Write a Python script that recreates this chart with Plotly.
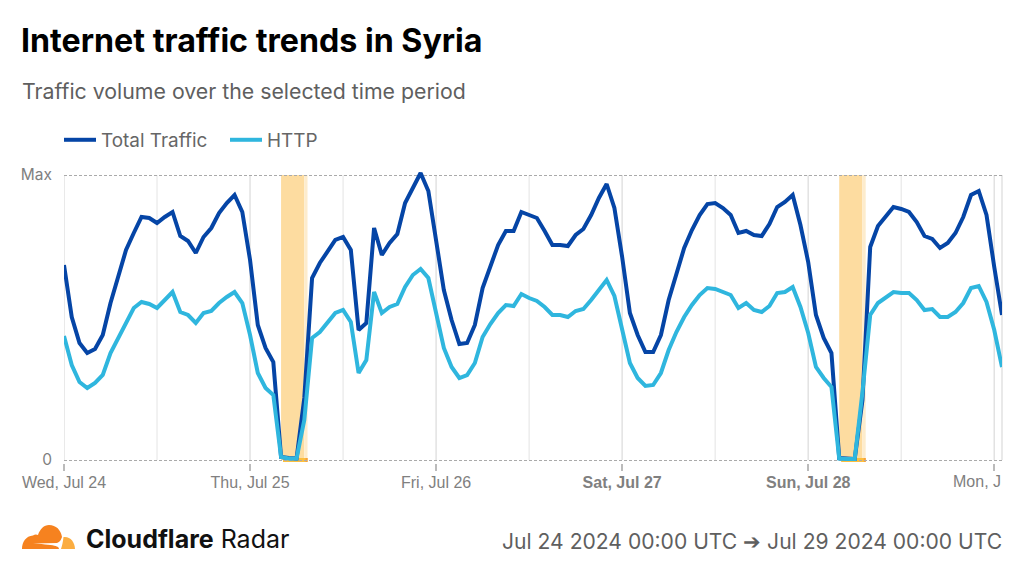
import pandas as pd
import plotly.graph_objects as go

# hourly traffic (0 to 285 = "Max")
total_traffic = [195,143,117,107,111,125,157,184,210,227,243,242,237,243,248,224,219,207,223,232,247,257,265,248,
                 200,135,112,98,3,2,1.5,62,182,197,208,220,223,210,130,137,232,205,217,226,257,273,287,269,
                 220,170,140,116,117,135,172,195,215,229,229,248,245,242,229,215,215,214,225,231,245,262,276,252,
                 203,147,125,108,108,125,160,187,212,230,245,256,257,252,245,227,229,225,224,236,253,258,265,235,
                 198,145,122,107,2,1.5,1,60,213,234,243,253,251,248,238,224,221,212,217,227,243,265,269,245,
                 193,145]
http_traffic = [124,95,78,72,77,85,107,122,138,152,158,156,152,160,168,148,145,137,147,149,157,163,168,157,
                125,87,72,65,3,1.5,1.5,40,122,128,137,147,150,138,87,100,168,147,153,156,173,185,191,182,
                147,112,93,82,85,97,123,136,147,155,154,166,162,159,153,145,145,143,149,151,160,170,180,164,
                132,97,82,74,75,87,110,128,143,155,165,172,171,168,165,152,157,150,148,154,167,168,173,153,
                127,93,82,73,1.5,1,1,68,145,157,163,168,167,167,160,150,151,143,143,148,157,172,174,158,
                130,93]
hours = pd.date_range("2024-07-24", periods=len(total_traffic), freq="h")

day_ticks = ["2024-07-24", "2024-07-25", "2024-07-26", "2024-07-27", "2024-07-28", "2024-07-29"]
day_labels = ["Wed, Jul 24", "Thu, Jul 25", "Fri, Jul 26", "<b>Sat, Jul 27</b>", "<b>Sun, Jul 28</b>", ""]
noon_ticks = ["2024-07-24 12:00", "2024-07-25 12:00", "2024-07-26 12:00", "2024-07-27 12:00", "2024-07-28 12:00"]
y_max = 285

# outages: start, end of solid band, end of pale edge
outages = [("2024-07-25 04:00", "2024-07-25 07:00", "2024-07-25 07:25"),
           ("2024-07-28 04:00", "2024-07-28 07:00", "2024-07-28 07:25")]
outage_bars = [("2024-07-25 04:15", "2024-07-25 07:10"), ("2024-07-28 04:15", "2024-07-28 07:10")]

W, H = 1024, 576
L, R, T, B = 64, 1002, 172, 463


def px(x):
    return (x - L) / (R - L)


def py(y):
    return (B - y) / (B - T)


def cloud_path(points):
    # points are page pixels
    out = ""
    for cmd, coords in points:
        out += cmd + " ".join(f"{px(c[0]):.5f},{py(c[1]):.5f}" for c in coords) + " "
    return out + "Z"


fig = go.Figure()
fig.add_trace(go.Scatter(x=hours, y=total_traffic, mode="lines", name="Total Traffic",
                         line=dict(color="#0545a6", width=4)))
fig.add_trace(go.Scatter(x=hours, y=http_traffic, mode="lines", name="HTTP",
                         line=dict(color="#2fb6de", width=4)))

# vertical grid
for t in day_ticks:
    fig.add_shape(type="line", xref="x", yref="y", x0=t, x1=t, y0=0, y1=y_max, layer="below",
                  line=dict(color="#e2e2e2", width=1.5))
for t in noon_ticks:
    fig.add_shape(type="line", xref="x", yref="y", x0=t, x1=t, y0=0, y1=y_max, layer="below",
                  line=dict(color="#e8e8e8", width=1.2))
fig.add_shape(type="line", xref="paper", yref="y", x0=1, x1=1, y0=0, y1=y_max, layer="below",
              line=dict(color="#e2e2e2", width=1.5))

for start, end, edge in outages:
    fig.add_shape(type="rect", xref="x", yref="y", x0=start, x1=end, y0=0, y1=y_max, layer="below",
                  fillcolor="#fddca0", line_width=0)
    fig.add_shape(type="rect", xref="x", yref="y", x0=end, x1=edge, y0=0, y1=y_max, layer="below",
                  fillcolor="#fdeccd", line_width=0)
for (start, dot), (_, _, edge) in zip(outage_bars, outages):
    fig.add_shape(type="line", xref="x", yref="y", x0=start, x1=edge, y0=0, y1=0, layer="below",
                  line=dict(color="#fcbf3f", width=4))
    fig.add_shape(type="line", xref="x", yref="y", x0=dot, x1=edge, y0=0, y1=0, layer="below",
                  line=dict(color="#f8a13c", width=4))

# cloudflare logo
fig.add_shape(type="path", xref="paper", yref="paper", line_width=0, fillcolor="#f6821f",
              path=cloud_path([("M", [(22, 549)]),
                               ("C", [(22, 542), (26, 536), (33, 535.5)]),
                               ("C", [(35, 534), (37, 534.5), (38, 535)]),
                               ("C", [(40, 529), (44, 525), (49, 525)]),
                               ("C", [(56, 525), (61, 530), (62, 537)]),
                               ("C", [(61, 540), (60, 542), (57, 543)]),
                               ("L", [(33, 543.5), (33, 544.5), (57, 544.5)]),
                               ("C", [(59, 545), (59, 547), (59, 549)])]))
fig.add_shape(type="path", xref="paper", yref="paper", line_width=0, fillcolor="#fbad41",
              path=cloud_path([("M", [(61, 549)]),
                               ("C", [(62, 546), (63, 542), (63.5, 537)]),
                               ("C", [(70, 536), (75, 542), (75, 549)])]))

fig.add_annotation(text="Traffic volume over the selected time period", xref="paper", yref="paper",
                   x=px(20), y=py(91), xanchor="left", yanchor="middle", showarrow=False,
                   font=dict(family="Inter", size=21.3, color="#5f5f5f"))
fig.add_annotation(text="Mon, J", xref="paper", yref="paper", x=px(1003), y=py(481), xanchor="right",
                   yanchor="middle", showarrow=False, font=dict(family="Liberation Sans", size=16, color="#808080"))
fig.add_annotation(text="<b>Cloudflare</b> Radar", xref="paper", yref="paper", x=px(84), y=py(539),
                   xanchor="left", yanchor="middle", showarrow=False,
                   font=dict(family="Inter", size=25, color="#111111"))
fig.add_annotation(text="Jul 24 2024 00:00 UTC ➔ Jul 29 2024 00:00 UTC", xref="paper", yref="paper",
                   x=px(1004), y=py(541), xanchor="right", yanchor="middle", showarrow=False,
                   font=dict(family="Inter", size=21.1, color="#5f5f5f"))

fig.update_layout(
    width=W, height=H, autosize=False,
    margin=dict(l=L, r=W - R, t=T, b=H - B),
    paper_bgcolor="white", plot_bgcolor="white",
    title=dict(text="<b>Internet traffic trends in Syria</b>", x=21 / W, xanchor="left", xref="container",
               y=1 - 41 / H, yanchor="middle", yref="container",
               font=dict(family="Inter", size=32.2, color="#000000")),
    legend=dict(orientation="h", x=px(59), y=py(140), xanchor="left", yanchor="middle",
                font=dict(family="Inter", size=18.9, color="#666666"), itemwidth=32,
                entrywidth=119, entrywidthmode="pixels"),
    xaxis=dict(range=[hours[0], hours[-1]], tickmode="array", tickvals=day_ticks, ticktext=day_labels,
               ticks="outside", ticklen=7, tickwidth=1.5, tickcolor="#bbbbbb", showline=False,
               showgrid=False, zeroline=False, ticklabelstandoff=-2,
               tickfont=dict(family="Liberation Sans", size=16, color="#808080")),
    yaxis=dict(range=[-3, 288], tickmode="array", tickvals=[0, y_max], ticktext=["0", "Max"], zeroline=False,
               showline=False, showgrid=True, gridcolor="#aaaaaa", gridwidth=1, griddash="3px,2px",
               ticks="", ticklabelstandoff=11, tickfont=dict(family="Inter", size=15.5, color="#808080")),
)

# page margin off so the 1024x576 figure fills the window
fig.write_html("out.html", post_script="document.body.style.margin='0';", config={"displayModeBar": False})
